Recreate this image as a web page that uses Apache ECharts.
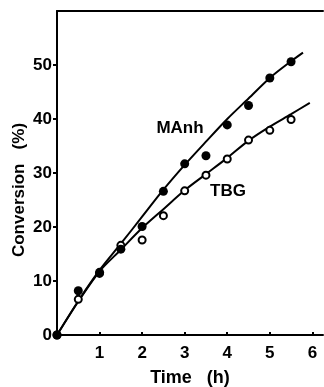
<!DOCTYPE html>
<html>
<head>
<meta charset="utf-8">
<script src="https://cdn.jsdelivr.net/npm/echarts@6/dist/echarts.min.js"></script>
<style>html,body{margin:0;padding:0;background:#fff}#c{width:324px;height:387px}</style>
</head>
<body>
<div id="c"></div>
<script>
// Measured points (time in h, conversion in %)
var timePts = [0, 0.5, 1, 1.5, 2, 2.5, 3, 3.5, 4, 4.5, 5, 5.5];
var manhPts = [0, 8.2, 11.6, 15.9, 20.1, 26.6, 31.7, 33.2, 38.9, 42.5, 47.6, 50.6];
var tbgPts  = [0, 6.6, 11.4, 16.6, 17.6, 22.1, 26.7, 29.6, 32.6, 36.1, 37.9, 39.9];

// Fitted curves
var manhCurveTime = [0, 0.5, 1, 1.5, 2, 2.5, 3, 3.5, 4, 4.5, 5, 5.5, 5.78];
var manhCurve     = [0, 6.3, 12.0, 16.9, 21.9, 26.9, 31.5, 35.8, 40.0, 43.8, 47.6, 50.7, 52.3];
var tbgCurveTime  = [0, 0.5, 1, 1.5, 2, 2.5, 3, 3.5, 4, 4.5, 5, 5.5, 5.94];
var tbgCurve      = [0, 6.2, 11.8, 15.8, 19.8, 23.3, 26.8, 29.8, 32.8, 36.0, 38.6, 40.9, 43.0];

var xTicks = [1, 2, 3, 4, 5, 6];
var yTicks = [0, 10, 20, 30, 40, 50];

function zip(a, b) { return a.map(function (v, i) { return [v, b[i]]; }); }

var FONT = 'Liberation Sans';
var chart = echarts.init(document.getElementById('c'), null, {renderer: 'canvas'});
chart.setOption({
  animation: false,
  backgroundColor: '#fff',
  grid: {left: 57, top: 11, width: 266, bottom: 52, containLabel: false},
  xAxis: [{
    type: 'value', min: 0, max: 6.25, position: 'bottom',
    axisLine: {show: true, onZero: false, lineStyle: {color: '#000', width: 2}},
    axisTick: {show: true, inside: true, length: 3, lineStyle: {color: '#000', width: 2}, customValues: xTicks},
    axisLabel: {show: true, margin: 10, color: '#000', fontFamily: FONT, fontWeight: 'bold', fontSize: 17, customValues: xTicks},
    splitLine: {show: false}
  }, {
    type: 'value', min: 0, max: 6.25, position: 'top',
    axisLine: {show: true, onZero: false, lineStyle: {color: '#000', width: 2}},
    axisTick: {show: false}, axisLabel: {show: false}, splitLine: {show: false}
  }],
  yAxis: {
    type: 'value', min: 0, max: 60,
    axisLine: {show: true, onZero: false, lineStyle: {color: '#000', width: 2}},
    axisTick: {show: true, inside: false, length: 4, lineStyle: {color: '#000', width: 2}, customValues: yTicks},
    axisLabel: {show: true, margin: 5, color: '#000', fontFamily: FONT, fontWeight: 'bold', fontSize: 17, customValues: yTicks},
    splitLine: {show: false}
  },
  series: [
    {type: 'line', data: zip(tbgCurveTime, tbgCurve), smooth: 0.3, symbol: 'none',
     lineStyle: {color: '#000', width: 2}, z: 2},
    {type: 'line', data: zip(manhCurveTime, manhCurve), smooth: 0.3, symbol: 'none',
     lineStyle: {color: '#000', width: 2}, z: 2},
    {type: 'scatter', data: zip(timePts, tbgPts), symbol: 'circle', symbolSize: 7,
     itemStyle: {color: '#fff', borderColor: '#000', borderWidth: 2, opacity: 1}, z: 3},
    {type: 'scatter', data: zip(timePts, manhPts), symbol: 'circle', symbolSize: 9,
     itemStyle: {color: '#000', opacity: 1}, z: 4}
  ],
  graphic: [
    {type: 'text', x: 180, y: 128, style: {text: 'MAnh', font: 'bold 17px "Liberation Sans"', fill: '#000', align: 'center', verticalAlign: 'middle'}},
    {type: 'text', x: 228, y: 191, style: {text: 'TBG', font: 'bold 17px "Liberation Sans"', fill: '#000', align: 'center', verticalAlign: 'middle'}},
    {type: 'text', x: 190, y: 378, style: {text: 'Time   (h)', font: 'bold 18px "Liberation Sans"', fill: '#000', align: 'center', verticalAlign: 'middle'}},
    {type: 'text', x: 19, y: 190, rotation: Math.PI / 2, style: {text: 'Conversion   (%)', font: 'bold 17px "Liberation Sans"', fill: '#000', align: 'center', verticalAlign: 'middle'}}
  ]
});
</script>
</body>
</html>
